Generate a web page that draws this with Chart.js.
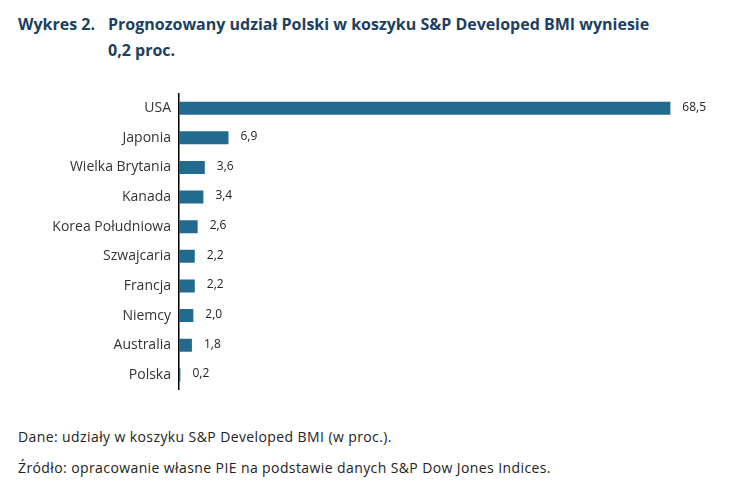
<!DOCTYPE html>
<html>
<head>
<meta charset="utf-8">
<script src="https://cdn.jsdelivr.net/npm/chart.js@4"></script>
<style>
  body { margin: 0; background: #fff; width: 740px; height: 494px; overflow: hidden; font-family: "Open Sans", sans-serif; }
  .title { position: absolute; left: 18px; top: 11px; color: #1d3f60; font-weight: bold; font-size: 16px; line-height: 26px; white-space: nowrap; }
  .title .num { position: absolute; left: 0; top: 0; }
  .title .txt { margin-left: 90px; }
  .wrap { position: absolute; left: 0; top: 85px; width: 740px; height: 313px; }
  .note { position: absolute; left: 18px; color: #222; font-size: 14px; letter-spacing: 0.4px; }
</style>
</head>
<body>
<div class="title"><span class="num">Wykres 2.</span><div class="txt">Prognozowany udział Polski w koszyku S&amp;P Developed BMI wyniesie<br>0,2 proc.</div></div>
<div class="wrap"><canvas id="chart"></canvas></div>
<div class="note" style="top:427px">Dane: udziały w koszyku S&amp;P Developed BMI (w proc.).</div>
<div class="note" style="top:458px">Źródło: opracowanie własne PIE na podstawie danych S&amp;P Dow Jones Indices.</div>
<script>
const countries = ['USA', 'Japonia', 'Wielka Brytania', 'Kanada', 'Korea Południowa', 'Szwajcaria', 'Francja', 'Niemcy', 'Australia', 'Polska'];
const shares = [68.5, 6.9, 3.6, 3.4, 2.6, 2.2, 2.2, 2.0, 1.8, 0.2];

// value labels to the right of each bar
const valueLabels = {
    id: 'valueLabels',
    afterDatasetsDraw(chart) {
        const ctx = chart.ctx;
        const meta = chart.getDatasetMeta(0);
        ctx.save();
        ctx.font = '12px "Open Sans", sans-serif';
        ctx.fillStyle = '#222';
        ctx.textBaseline = 'middle';
        meta.data.forEach((bar, i) => {
            ctx.fillText(shares[i].toFixed(1).replace('.', ','), bar.x + 12, bar.y - 1);
        });
        ctx.restore();
    }
};

new Chart(document.getElementById('chart'), {
    type: 'bar',
    data: {
        labels: countries,
        datasets: [{
            data: shares,
            backgroundColor: '#236b8e',
            barPercentage: 0.44,
            categoryPercentage: 1
        }]
    },
    options: {
        indexAxis: 'y',
        responsive: true,
        maintainAspectRatio: false,
        animation: false,
        layout: { padding: { top: 8, bottom: 0, right: 23, left: 0 } },
        plugins: { legend: { display: false }, tooltip: { enabled: false } },
        scales: {
            x: { display: false, min: 0, max: 75 },
            y: {
                grid: { display: false },
                border: { display: true, color: '#000', width: 1.5 },
                ticks: { color: '#333', font: { size: 14, family: '"Open Sans", sans-serif' }, padding: 0 },
                afterFit(scale) { scale.width = 179; }
            }
        }
    },
    plugins: [valueLabels]
});
</script>
</body>
</html>
